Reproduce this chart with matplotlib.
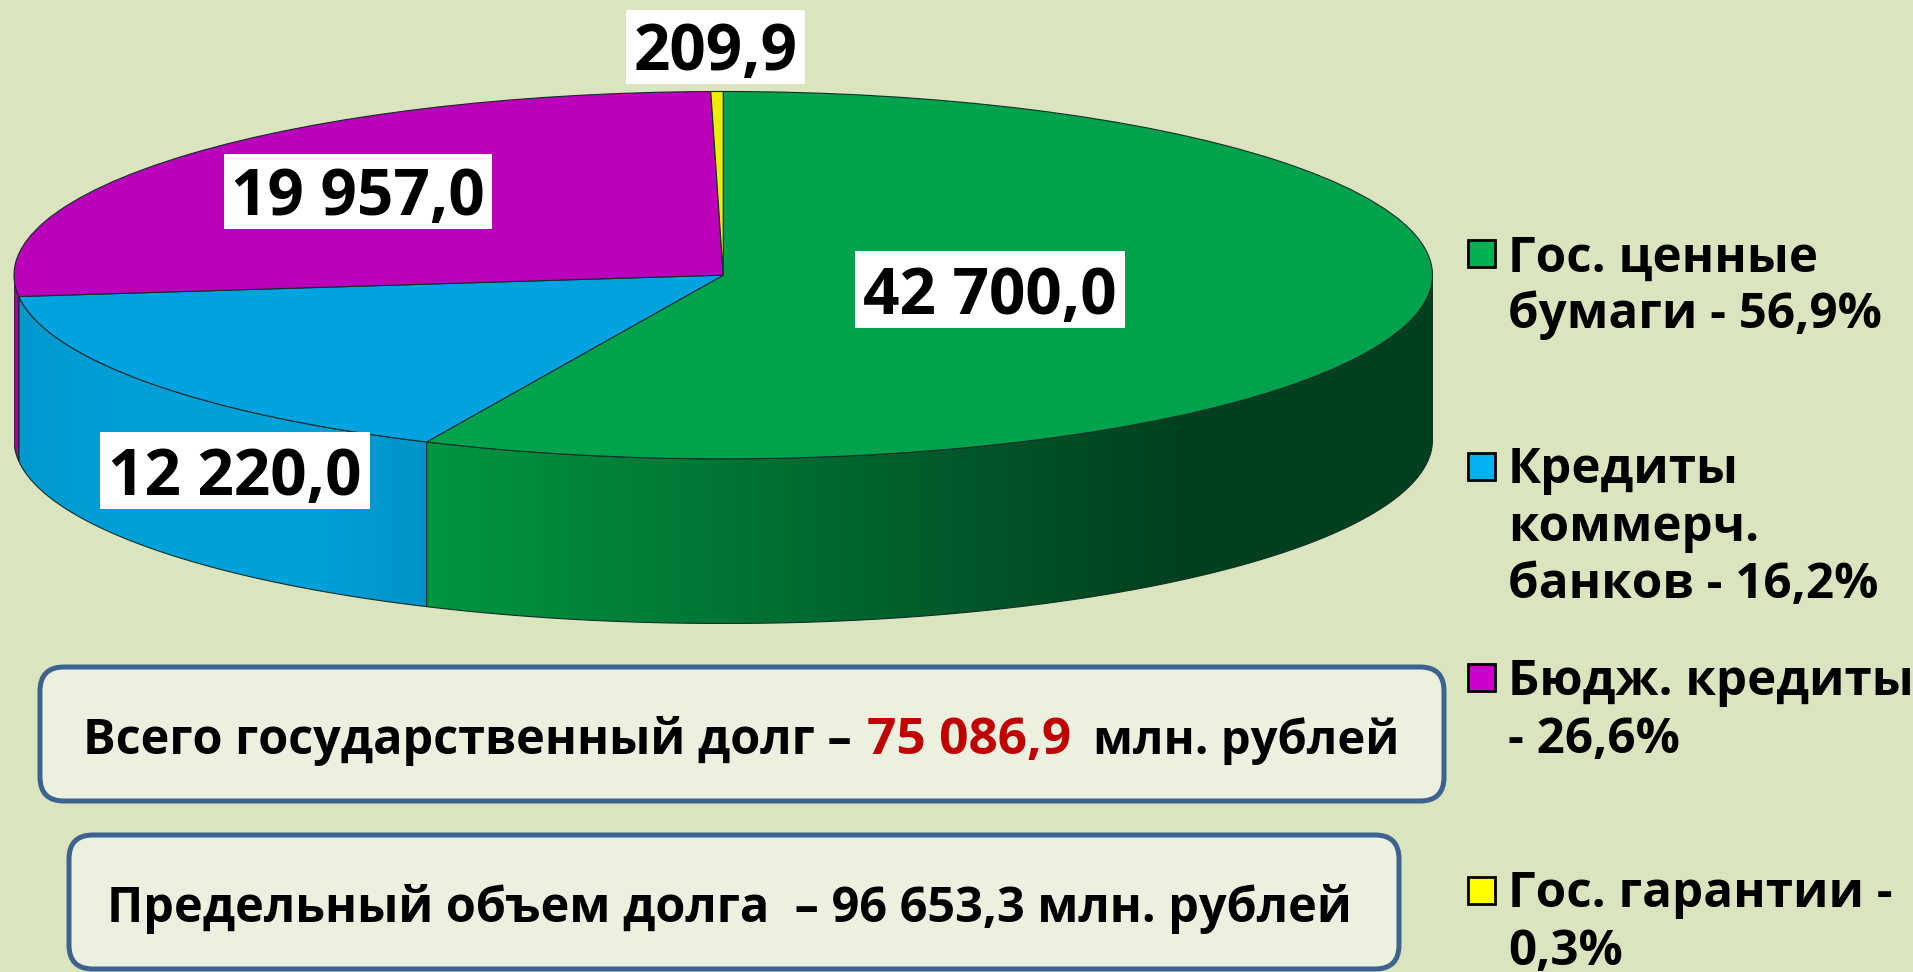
import matplotlib
matplotlib.use('Agg')
import matplotlib.pyplot as plt
import numpy as np
from matplotlib.colors import LinearSegmentedColormap
from matplotlib.patches import FancyBboxPatch, Polygon, Rectangle

# data
values = [42700.0, 12220.0, 19957.0, 209.9]
value_labels = ['42 700,0', '12 220,0', '19 957,0', '209,9']
legend_lines = [['Гос. ценные', 'бумаги - 56,9%'],
                ['Кредиты', 'коммерч.', 'банков - 16,2%'],
                ['Бюдж. кредиты', '- 26,6%'],
                ['Гос. гарантии -', '0,3%']]
total_parts = ['Всего государственный долг –', '75 086,9', 'млн. рублей']
limit_text = 'Предельный объем долга  – 96 653,3 млн. рублей'

# colours
BG = '#DAE4BF'
top_colors = ['#00A34C', '#00A2E0', '#BA00BA', '#EEEE00']
legend_colors = ['#00B050', '#00B0F0', '#CC00CC', '#FFFF00']
wall_colors = [['#009640', '#007A36', '#005C2A', '#00401E', '#00401E'],
               ['#0098CF', '#009FD8', '#00A2DC', '#009FD8', '#0093C8'],
               ['#A000A0', '#A000A0'],
               ['#C8C800', '#C8C800']]

W, H = 1913, 972
FONT = 'Open Sans'

fig = plt.figure(figsize=(W / 100, H / 100), dpi=100, facecolor=BG)

# pie box: ellipse 14..1432 wide, top 91.5, wall bottom 623.5
ry = 184.0
depth = 165.0 / ry
pie_ax = fig.add_axes([14 / W, 1 - 623.5 / H, 1418.5 / W, 532.0 / H])
wedges, _ = pie_ax.pie(values, colors=top_colors, startangle=90, counterclock=False,
                       wedgeprops=dict(edgecolor='#10302A', linewidth=0.8, zorder=5))
pie_ax.set_aspect('auto')

# side wall, angles come from the values
edges = np.concatenate([[0], np.cumsum(values)]) / sum(values) * 360
for i in range(len(values)):
    a0, a1 = max(edges[i], 90), min(edges[i + 1], 270)
    if a0 >= a1:
        continue
    t = np.radians(np.linspace(a0, a1, 200))
    x, y = np.sin(t), np.cos(t)
    pts = np.vstack([np.column_stack([x, y]), np.column_stack([x[::-1], y[::-1] - depth])])
    wall = Polygon(pts, closed=True, facecolor='none', edgecolor='#10302A', linewidth=0.8, zorder=3)
    pie_ax.add_patch(wall)
    cmap = LinearSegmentedColormap.from_list('wall%d' % i, wall_colors[i])
    grad = np.linspace(0, 1, 256).reshape(1, -1)
    img = pie_ax.imshow(grad, cmap=cmap, extent=(x.min(), x.max(), -1 - depth, 1), aspect='auto', zorder=2)
    img.set_clip_path(wall)

pie_ax.set_xlim(-1, 1)
pie_ax.set_ylim(-1 - depth, 1)
pie_ax.axis('off')

# overlay in pixels
ax = fig.add_axes([0, 0, 1, 1], facecolor='none')
ax.set_xlim(0, W)
ax.set_ylim(H, 0)
ax.axis('off')

# value labels
label_boxes = [(855, 251, 1125, 328), (100, 432, 370, 509), (224, 154, 492, 229), (626, 10, 805, 84)]
label_base = [314, 495, 215, 70]
for txt, (x0, y0, x1, y1), b in zip(value_labels, label_boxes, label_base):
    ax.add_patch(Rectangle((x0, y0), x1 - x0, y1 - y0, facecolor='white', edgecolor='none', zorder=6))
    ax.text((x0 + x1) / 2, b, txt, family=FONT, weight='bold', fontsize=46, color='black',
            ha='center', va='baseline', zorder=7)

# legend
square_y = [240, 453, 664, 877]
baselines = [[272, 328], [483, 541, 598], [695, 753], [907, 965]]
for color, lines, sy, bl in zip(legend_colors, legend_lines, square_y, baselines):
    ax.add_patch(Rectangle((1468, sy), 27, 27, facecolor=color, edgecolor='black', linewidth=2))
    for line, b in zip(lines, bl):
        ax.text(1508, b, line, family=FONT, weight='bold', fontsize=35.5, color='black', ha='left', va='baseline')

# boxes
for (x0, y0, x1, y1) in [(40, 667, 1444, 801), (69, 835, 1399, 969)]:
    ax.add_patch(FancyBboxPatch((x0 + 24, y0 + 24), x1 - x0 - 48, y1 - y0 - 48,
                                boxstyle='round,pad=24,rounding_size=24',
                                facecolor='#EBF0DF', edgecolor='#3D6290', linewidth=3.6))

ax.text(83, 754, total_parts[0], family=FONT, weight='bold', fontsize=35, color='black', va='baseline')
ax.text(867, 754, total_parts[1], family=FONT, weight='bold', fontsize=37, color='#C00000', va='baseline')
ax.text(1093, 754, total_parts[2], family=FONT, weight='bold', fontsize=34, color='black', va='baseline')
ax.text(107, 922, limit_text, family=FONT, weight='bold', fontsize=35, color='black', va='baseline')

fig.savefig('out.png', dpi=100, facecolor=BG)
